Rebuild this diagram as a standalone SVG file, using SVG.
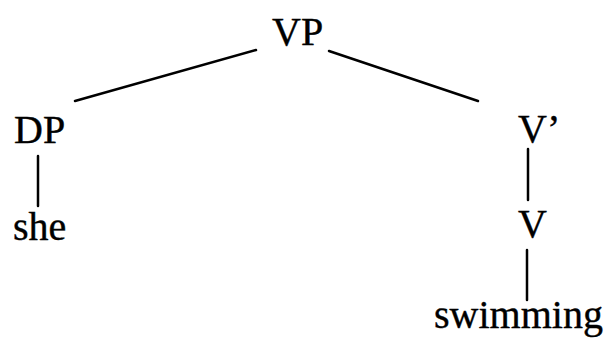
<svg xmlns="http://www.w3.org/2000/svg" width="610" height="341" viewBox="0 0 610 341">
<style>
text{font-family:"Liberation Serif","Times New Roman",serif;font-size:40px;fill:#000;stroke:#000;stroke-width:0.4}
.e{stroke:#000;stroke-width:2.5;fill:none;stroke-linecap:round}
</style>
<rect width="610" height="341" fill="#fff"/>
<g id="connectors">
<line class="e" x1="75" y1="101" x2="256" y2="50"/>
<line class="e" x1="329" y1="51" x2="478" y2="101"/>
<line class="e" x1="38" y1="156" x2="38" y2="206"/>
<line class="e" x1="528" y1="149" x2="528" y2="200"/>
<line class="e" x1="527" y1="250" x2="527" y2="300"/>
</g>
<g id="VP"><text x="272" y="45">VP</text></g>
<g id="DP"><text x="14" y="143">DP</text></g>
<g id="Vbar"><text x="518" y="142">V’</text></g>
<g id="she"><text x="13" y="240">she</text></g>
<g id="V"><text x="518" y="237">V</text></g>
<g id="swimming"><text x="434" y="328">swimming</text></g>
</svg>
